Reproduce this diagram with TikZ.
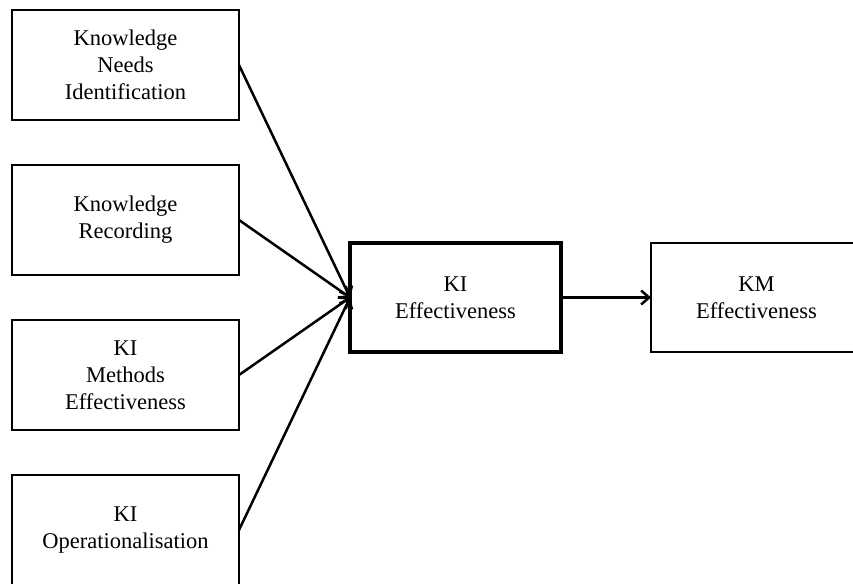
\documentclass[tikz,border=0pt]{standalone}
\usepackage{fontspec}
\setmainfont{Liberation Serif}
\usetikzlibrary{positioning,arrows.meta}
\tikzset{
  factor box/.style = {
    shape = rectangle,
    align = center,
    draw  = black,
    line width = #1,
    inner sep = 0pt,
    outer sep = 0pt,
    minimum width = 227pt,
    minimum height = 110pt,
    font = \fontsize{22.5pt}{27pt}\selectfont},
  factor box/.default = 2pt
}
\begin{document}
\begin{tikzpicture}[node distance = 45pt, >={Straight Barb[length=8pt,width=14pt]}, line width = 2.5pt]
  \useasboundingbox (0,0) rectangle (853pt,-583pt);
  \node[factor box] (needs) at (125.5pt,-65pt) {Knowledge\\Needs\\Identification};
  \node[factor box, below = of needs] (recording) {Knowledge\\Recording};
  \node[factor box, below = of recording] (methods) {KI\\Methods\\Effectiveness};
  \node[factor box, below = of methods] (operational) {KI\\Operationalisation};
  \node[factor box = 3.5pt, minimum width = 211pt, minimum height = 109pt] (kieff) at (455.5pt,-297.5pt) {KI\\Effectiveness};
  \node[factor box, minimum width = 211pt, minimum height = 109pt, right = 90pt of kieff] (kmeff) {KM\\Effectiveness};
  \draw[->] (needs.east) -- (kieff.west);
  \draw[->] (recording.east) -- (kieff.west);
  \draw[->] (methods.east) -- (kieff.west);
  \draw[->] (operational.east) -- (kieff.west);
  \draw[->] (kieff) -- (kmeff);
\end{tikzpicture}
\end{document}
